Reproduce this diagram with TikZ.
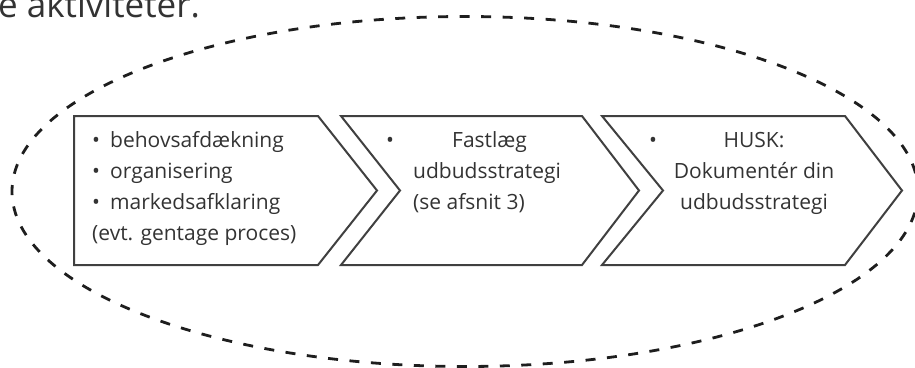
\documentclass[tikz,border=0pt]{standalone}
\usepackage{fontspec}
\setmainfont{Open Sans}
\usepackage{tikz}
\usetikzlibrary{positioning}
\usepackage{xcolor}
\definecolor{chevgray}{RGB}{64, 64, 64}
\definecolor{textgray}{RGB}{51, 51, 51}
\definecolor{loopblack}{RGB}{30, 30, 30}

\begin{document}
\begin{tikzpicture}[
  x=1pt, y=-1pt,
  chev/.style={draw=chevgray, line width=2pt, line join=miter},
  txt/.style={inner sep=0pt, text=textgray, font=\fontsize{21}{31}\selectfont},
  loop/.style={draw=loopblack, line width=2.8pt, dash pattern=on 10pt off 11.5pt}
]
\useasboundingbox (0,0) rectangle (915,367);
\clip (0,0) rectangle (915,367);

% heading, cut at the top edge
\node[inner sep=0pt, anchor=base west, text=textgray, font=\fontsize{35}{42}\selectfont] (head) at (-2,17.5) {e aktiviteter.};

% dashed loop round the process
\draw[loop] (465,191.5) ellipse [x radius=453, y radius=175];

% chevrons
\draw[chev] (74,116) -- (318,116) -- (377,190.5) -- (318,265) -- (74,265) -- cycle;
\draw[chev] (341,116) -- (582,116) -- (639,190.5) -- (582,265) -- (341,265) -- (400,190.5) -- cycle;
\draw[chev] (602,116) -- (845,116) -- (902,190.5) -- (845,265) -- (602,265) -- (663,190.5) -- cycle;

% texts (base = last line)
\node[txt, anchor=base west, align=left] (pre) at (92,240)
  {\makebox[18pt][l]{•}behovsafdækning\\
   \makebox[18pt][l]{•}organisering\\
   \makebox[18pt][l]{•}markedsafklaring\\
   (evt. gentage proces)};
\node[txt, anchor=base] (dotb) at (390,147) {•};
\node[txt, anchor=base west, align=left] (strat) at (413,209)
  {\hspace*{39pt}Fastlæg\\udbudsstrategi\\(se afsnit 3)};
\node[txt, anchor=base] (dotc) at (653,147) {•};
\node[txt, anchor=base, align=center] (husk) at (754,209)
  {HUSK:\\Dokumentér din\\udbudsstrategi};
\end{tikzpicture}
\end{document}
